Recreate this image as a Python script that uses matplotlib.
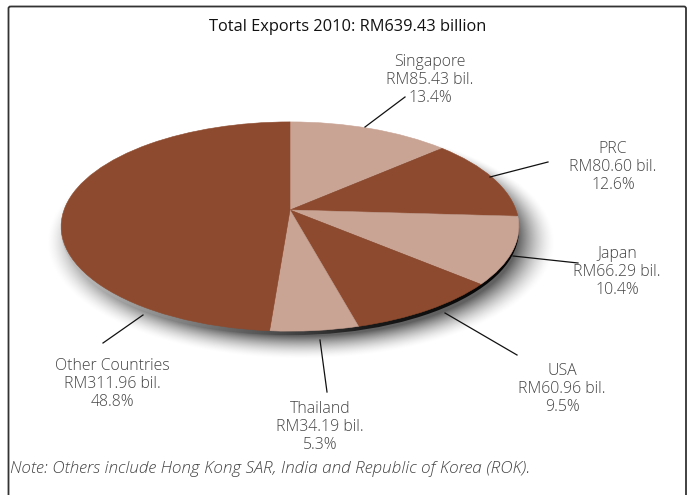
import numpy as np
import matplotlib.pyplot as plt
from matplotlib.patches import Circle, FancyBboxPatch
from matplotlib.transforms import Transform, Affine2D
from matplotlib.colors import LinearSegmentedColormap

plt.rcParams["font.family"] = ["Open Sans", "DejaVu Sans"]

# data (RM billion, 2010)
COUNTRIES = ["Singapore", "PRC", "Japan", "USA", "Thailand", "Other Countries"]
EXPORTS_BIL = [85.43, 80.60, 66.29, 60.96, 34.19, 311.96]
SHARES_PCT = [13.4, 12.6, 10.4, 9.5, 5.3, 48.8]
TOTAL_BIL = 639.43
NOTE = "Note: Others include Hong Kong SAR, India and Republic of Korea (ROK)."

DARK = "#8D4A2E"
LIGHT = "#C9A394"
TEXT = "#444444"

# layout in pixel coords (label centre, leader start, leader end)
LABEL_POS = [(430, 80), (613, 167), (617, 272), (562, 389), (320, 427), (112, 384)]
LEADERS = [
    ((365, 127), (405, 97)),
    ((490, 177), (548, 162)),
    ((513, 256), (578, 263)),
    ((445, 313), (517, 355)),
    ((320, 340), (327, 392)),
    ((143, 315), (103, 343)),
]

CX, CY, RX, RY, TILT = 290, 210, 226, 102, 0.158


class TiltTransform(Transform):
    """Unit disk -> tilted pie in pixel coords (simple perspective)."""
    input_dims = 2
    output_dims = 2

    def __init__(self, cx, cy, rx, ry, k):
        super().__init__()
        self.cx, self.cy, self.rx, self.ry, self.k = cx, cy, rx, ry, k

    def transform_non_affine(self, values):
        values = np.asarray(values, dtype=float)
        u, v = values[:, 0], values[:, 1]
        w = 1 + self.k * v
        return np.column_stack([self.cx + self.rx * u / w, self.cy - self.ry * v / w])


def disk_radius(X, Y, cx, cy):
    # inverse of the tilt, radius in unit-disk space
    yp = (cy - Y) / RY
    xp = (X - cx) / RX
    v = yp / (1 - TILT * yp)
    u = xp * (1 + TILT * v)
    return np.sqrt(u ** 2 + v ** 2)


fig = plt.figure(figsize=(6.94, 4.95), dpi=100)
ax = fig.add_axes([0, 0, 1, 1])

tilt = TiltTransform(CX, CY, RX, RY, TILT)

# soft drop shadow
gx, gy = np.meshgrid(np.arange(0, 694) + 0.5, np.arange(0, 495) + 0.5)
r = disk_radius(gx - 11, gy - 12, CX, CY)
alpha = 0.62 * np.clip(1 - (r - 0.95) / 0.16, 0, 1) ** 1.6
shadow = np.zeros(gx.shape + (4,))
shadow[..., 3] = alpha
ax.imshow(shadow, extent=(0, 694, 495, 0), zorder=1, interpolation="bilinear")

# rim under the top face
rim = Circle((0, 0), 1, transform=tilt + Affine2D().translate(0, 4) + ax.transData,
             facecolor="none", edgecolor="none")
ax.add_patch(rim)
rim_cmap = LinearSegmentedColormap.from_list("rim", ["#c4c4c4", "#707070", "#1a1a1a", "#000000"])
grad = np.tile(np.linspace(0, 1, 256), (2, 1))
img = ax.imshow(grad, cmap=rim_cmap, extent=(60, 522, 340, 110), aspect="auto", zorder=2)
img.set_clip_path(rim)

colors = [LIGHT, DARK] * 3
wedges, _ = ax.pie(EXPORTS_BIL, colors=colors, startangle=90, counterclock=False)
for w, c in zip(wedges, colors):
    w.set_transform(tilt + ax.transData)
    w.set_edgecolor(c)
    w.set_linewidth(0.4)
    w.set_zorder(3)

for name, val, pct, pos, (p0, p1) in zip(COUNTRIES, EXPORTS_BIL, SHARES_PCT, LABEL_POS, LEADERS):
    ax.text(pos[0], pos[1], f"{name}\nRM{val:.2f} bil.\n{pct:.1f}%", ha="center", va="center",
            fontsize=11.4, fontweight="light", color=TEXT, linespacing=1.18, zorder=5)
    ax.plot([p0[0], p1[0]], [p0[1], p1[1]], color="#111111", lw=0.9, zorder=4)

ax.text(348, 27, f"Total Exports 2010: RM{TOTAL_BIL:.2f} billion", ha="center", va="center",
        fontsize=11.8, color="#111111")
ax.text(10, 469, NOTE, ha="left", va="center", fontsize=12.3, style="italic",
        fontweight="light", color=TEXT)

frame = FancyBboxPatch((8.5, 6.5), 677.5, 500, boxstyle="round,pad=0,rounding_size=2",
                       facecolor="none", edgecolor="#333333", lw=1.3, zorder=6)
ax.add_patch(frame)

ax.set_xlim(0, 694)
ax.set_ylim(495, 0)
ax.set_aspect("auto")
ax.axis("off")

fig.savefig("out.png", dpi=100)
